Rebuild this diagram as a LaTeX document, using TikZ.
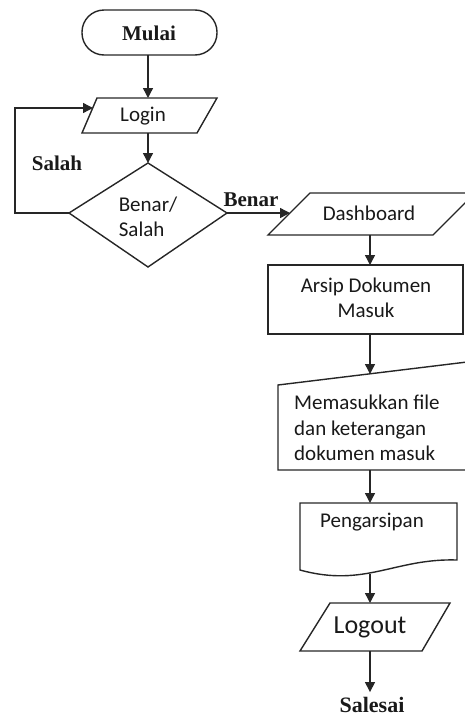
\documentclass[tikz,border=0pt]{standalone}
\usepackage{fontspec}
\setmainfont{Liberation Serif}
\newfontfamily\calib{Carlito}
\usetikzlibrary{arrows.meta}
\begin{document}
\begin{tikzpicture}[x=1pt,y=-1pt,
  outline/.style={draw=black!85, line width=1.4pt, line join=miter},
  conn/.style={draw=black!85, line width=1.4pt, -{Triangle[length=10pt,width=10pt]}},
  sans/.style={font=\calib\fontsize{21}{25.5}\selectfont, text=black!90, inner sep=0pt},
  serifb/.style={font=\fontsize{21}{24}\selectfont\bfseries, text=black!90, inner sep=0pt}]
\useasboundingbox (0,0) rectangle (465,718);
\begin{scope}
\clip (0,0) rectangle (465,718);
% shapes
\draw[outline, rounded corners=22pt] (82,10) rectangle (217,55);
\draw[outline] (97,98) -- (217,98) -- (197,133) -- (82,133) -- cycle;
\draw[outline] (148,163) -- (227,213) -- (148,267) -- (69,213) -- cycle;
\draw[outline] (310,193) -- (475,193) -- (433,235) -- (268,235) -- cycle;
\draw[outline] (268,265) rectangle (463,334);
\draw[outline] (278,385) -- (467,362) -- (467,470) -- (278,470) -- cycle;
\draw[outline] (300,503) -- (457,503) -- (457,560) .. controls (395,558) and (365,588) .. (300,570) -- cycle;
\draw[outline] (330,603) -- (450,603) -- (422,651) -- (300,651) -- cycle;
\end{scope}
% connection points
\coordinate (mulaiB) at (148,55);
\coordinate (loginT) at (148,98);
\coordinate (loginB) at (148,133);
\coordinate (loginL) at (93,108);
\coordinate (dT) at (148,163);
\coordinate (dL) at (69,213);
\coordinate (dR) at (227,213);
\coordinate (loopc) at (15,108);
\coordinate (dashL) at (290,213);
\coordinate (dashB) at (370,235);
\coordinate (arsT) at (370,265);
\coordinate (arsB) at (370,334);
\coordinate (manT) at (370,374);
\coordinate (manB) at (370,470);
\coordinate (docT) at (370,503);
\coordinate (docB) at (370,574);
\coordinate (logT) at (370,603);
\coordinate (logB) at (370,651);
% texts
\node[serifb] (mulai) at (149,33) {Mulai};
\node[sans] (login) at (143,116) {Login};
\node[sans, align=left] (dtext) at (148,217) {Benar/\\Salah};
\node[serifb] (salahl) at (57,163) {Salah};
\node[serifb] (benarl) at (251,200) {Benar};
\node[sans] (dash) at (369,213) {Dashboard};
\node[sans, align=center] (arsip) at (366,298) {Arsip Dokumen\\Masuk};
\node[sans, align=left, anchor=west] (manual) at (294,428) {Memasukkan file\\dan keterangan\\dokumen masuk};
\node[sans] (peng) at (372,522) {Pengarsipan};
\node[sans, font=\calib\fontsize{26}{30}\selectfont] (logout) at (370,627) {Logout};
\node[serifb, font=\fontsize{22}{26}\selectfont\bfseries] (salesai) at (372,705) {Salesai};
% connectors
\draw[conn] (mulaiB) -- (loginT);
\draw[conn] (loginB) -- (dT);
\draw[conn] (dL) -| (loopc) -- (loginL);
\draw[conn] (dR) -- (dashL);
\draw[conn] (dashB) -- (arsT);
\draw[conn] (arsB) -- (manT);
\draw[conn] (manB) -- (docT);
\draw[conn] (docB) -- (logT);
\draw[conn, shorten >=5pt] (logB) -- (salesai.north -| logB);
\end{tikzpicture}
\end{document}
